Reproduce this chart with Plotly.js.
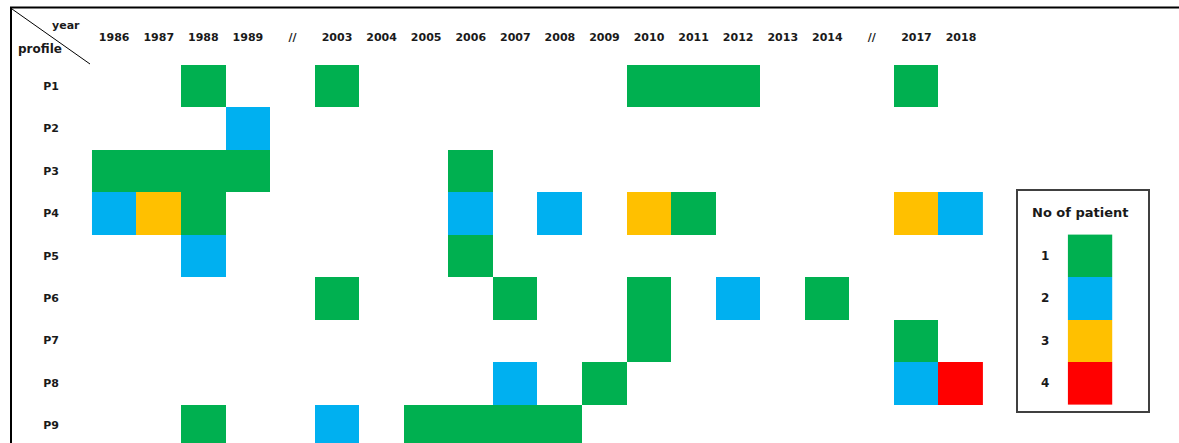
<!DOCTYPE html>
<html>
<head>
<meta charset="utf-8">
<script src="https://cdn.plot.ly/plotly-3.0.1.min.js"></script>
<style>html,body{margin:0;padding:0;background:#fff;}#chart{width:1179px;height:443px;}</style>
</head>
<body>
<div id="chart"></div>
<script>
// ---- data ----
const yearLabels = ['1986','1987','1988','1989','//','2003','2004','2005','2006','2007','2008','2009','2010','2011','2012','2013','2014','//','2017','2018'];
const profiles = ['P1','P2','P3','P4','P5','P6','P7','P8','P9'];
const N = null;
//            86 87 88 89 // 03 04 05 06 07 08 09 10 11 12 13 14 // 17 18
const P1 = [N, N, 1, N, N, 1, N, N, N, N, N, N, 1, 1, 1, N, N, N, 1, N];
const P2 = [N, N, N, 2, N, N, N, N, N, N, N, N, N, N, N, N, N, N, N, N];
const P3 = [1, 1, 1, 1, N, N, N, N, 1, N, N, N, N, N, N, N, N, N, N, N];
const P4 = [2, 3, 1, N, N, N, N, N, 2, N, 2, N, 3, 1, N, N, N, N, 3, 2];
const P5 = [N, N, 2, N, N, N, N, N, 1, N, N, N, N, N, N, N, N, N, N, N];
const P6 = [N, N, N, N, N, 1, N, N, N, 1, N, N, 1, N, 2, N, 1, N, N, N];
const P7 = [N, N, N, N, N, N, N, N, N, N, N, N, 1, N, N, N, N, N, 1, N];
const P8 = [N, N, N, N, N, N, N, N, N, 2, N, 1, N, N, N, N, N, N, 2, 4];
const P9 = [N, N, 1, N, N, 2, N, 1, 1, 1, 1, N, N, N, N, N, N, N, N, N];
const legendTitle = 'No of patient';
const legendValues = [1, 2, 3, 4];
const legendRows = ['P5','P6','P7','P8'];
const colors = ['#00B050', '#00B0F0', '#FFC000', '#FF0000'];

try {
// ---- geometry helpers (pixels -> paper) ----
const W = 1179, H = 443;
const px = x => x / W;
const py = y => (H - y) / H;

const rowH = 42.4;
const plotTop = 65;
const colscale = [];
colors.forEach((c, i) => { colscale.push([i / 4, c]); colscale.push([(i + 1) / 4, c]); });

const xIdx = yearLabels.map((s, i) => i);
const yIdx = profiles.map((s, i) => i);
const legY = legendRows.map(r => profiles.indexOf(r));
const FONT = 'DejaVu Sans';
const TXT = '#1a1a1a';
const f = (size) => ({ family: FONT, size: size, color: TXT, weight: 'bold' });

const traces = [
  {
    type: 'heatmap', x: xIdx, y: yIdx,
    z: [P1, P2, P3, P4, P5, P6, P7, P8, P9],
    colorscale: colscale, zmin: 0.5, zmax: 4.5, showscale: false,
    hoverinfo: 'skip', xaxis: 'x', yaxis: 'y'
  },
  {
    type: 'heatmap', x: [0], y: legY,
    z: legendValues.map(v => [v]),
    colorscale: colscale, zmin: 0.5, zmax: 4.5, showscale: false,
    hoverinfo: 'skip', xaxis: 'x2', yaxis: 'y'
  }
];

const annotations = [
  { text: 'year', xref: 'paper', yref: 'paper', x: px(66), y: py(25), showarrow: false,
    font: f(11), xanchor: 'center', yanchor: 'middle' },
  { text: 'profile', xref: 'paper', yref: 'paper', x: px(40), y: py(49), showarrow: false,
    font: f(12), xanchor: 'center', yanchor: 'middle' },
  { text: legendTitle, xref: 'paper', yref: 'paper', x: px(1080), y: py(213), showarrow: false,
    font: f(13), xanchor: 'center', yanchor: 'middle' }
];
legendValues.forEach((v, i) => {
  annotations.push({ text: String(v), xref: 'paper', yref: 'y', x: px(1045), y: legY[i],
    showarrow: false, font: f(12), xanchor: 'center', yanchor: 'middle' });
});

const shapes = [
  { type: 'line', xref: 'paper', yref: 'paper', x0: px(10), x1: px(1179), y0: py(7.5), y1: py(7.5), line: { color: '#000', width: 2 } },
  { type: 'line', xref: 'paper', yref: 'paper', x0: px(11), x1: px(11), y0: py(7), y1: py(443), line: { color: '#000', width: 2 } },
  { type: 'line', xref: 'paper', yref: 'paper', x0: px(12), x1: px(90), y0: py(9), y1: py(64), line: { color: '#000', width: 1 } },
  { type: 'rect', xref: 'paper', yref: 'paper', x0: px(1017), x1: px(1149), y0: py(412), y1: py(190), line: { color: '#404040', width: 2 }, fillcolor: 'rgba(0,0,0,0)' }
];

const layout = {
  width: W, height: H,
  margin: { l: 0, r: 0, t: 0, b: 0, pad: 0 },
  paper_bgcolor: '#fff', plot_bgcolor: '#fff',
  showlegend: false,
  xaxis: {
    domain: [px(91.9), px(983.3)], range: [-0.5, 19.5], anchor: 'y', side: 'top',
    tickmode: 'array', tickvals: xIdx, ticktext: yearLabels,
    showgrid: false, zeroline: false, showline: false, ticks: '',
    tickfont: f(11), ticklabelstandoff: 21, fixedrange: true
  },
  xaxis2: {
    domain: [px(1067.7), px(1112.3)], range: [-0.5, 0.5], anchor: 'y',
    visible: false, showgrid: false, zeroline: false, fixedrange: true
  },
  yaxis: {
    domain: [0, py(plotTop)],
    range: [-0.5 + (H - plotTop) / rowH, -0.5],
    tickmode: 'array', tickvals: yIdx, ticktext: profiles,
    showgrid: false, zeroline: false, showline: false, ticks: '',
    tickfont: f(11), ticklabelstandoff: 32, fixedrange: true
  },
  annotations: annotations,
  shapes: shapes
};

Plotly.newPlot('chart', traces, layout, { staticPlot: true, displayModeBar: false }).catch(e => {
  document.body.insertAdjacentHTML('beforeend', '<pre>' + e.stack + '</pre>');
});
} catch (e) {
  document.body.insertAdjacentHTML('beforeend', '<pre>' + e.stack + '</pre>');
}
</script>
</body>
</html>
